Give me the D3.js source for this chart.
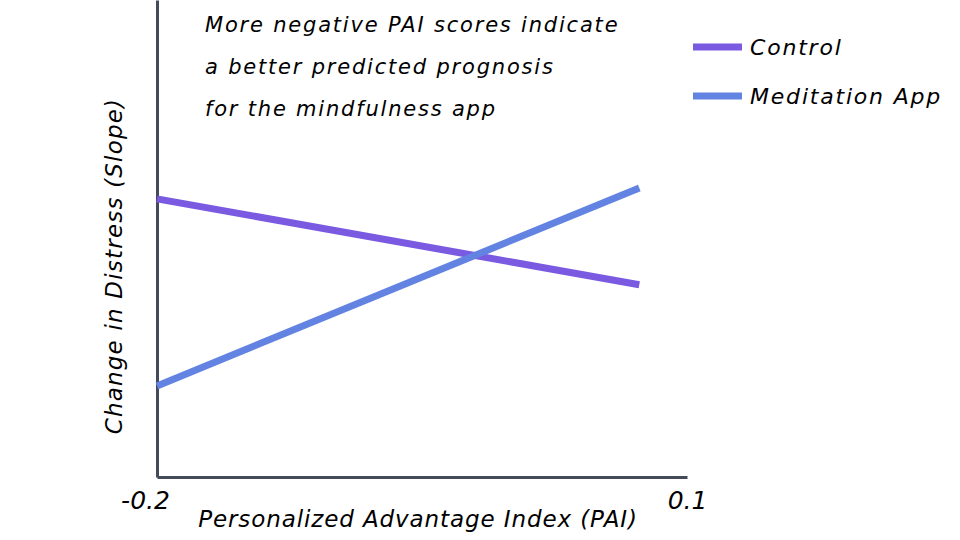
<!DOCTYPE html>
<html>
<head>
<meta charset="utf-8">
<script src="https://cdn.jsdelivr.net/npm/d3@7"></script>
<style>
  body { margin: 0; background: #fff; }
  text { font-family: "DejaVu Sans", sans-serif; font-style: italic; fill: #000; }
</style>
</head>
<body>
<script>
// chart values
var xTicks = [-0.2, 0.1];
var pai = [-0.2, 0.073];
var controlSlope = [5.83, 4.03];
var appSlope = [1.91, 6.06];
var seriesNames = ["Control", "Meditation App"];
var seriesColors = ["#7a5ae0", "#6283e2"];
var noteLines = ["More negative PAI scores indicate", "a better predicted prognosis", "for the mindfulness app"];

var width = 960, height = 540;
var svg = d3.select("body").append("svg").attr("width", width).attr("height", height);

var x = d3.scaleLinear().domain([-0.2, 0.1]).range([157, 687]);
var y = d3.scaleLinear().domain([0, 10]).range([477, 0]);

// axes, no tick marks, only the two end labels
var xAxis = svg.append("g").attr("transform", "translate(0,477)")
  .call(d3.axisBottom(x).tickValues(xTicks).tickSize(0).tickFormat(function(d) { return d.toFixed(1); }));
var yAxis = svg.append("g").attr("transform", "translate(157,0)")
  .call(d3.axisLeft(y).tickValues([]).tickSize(0));

svg.selectAll(".domain").attr("stroke", "#454a5a").attr("stroke-width", 3);
xAxis.selectAll(".tick text")
  .attr("font-family", "DejaVu Sans").attr("font-style", "italic").attr("font-size", 25)
  .attr("y", 32).attr("dy", 0)
  .attr("dx", function(d) { return d < 0 ? -12 : 0; });

var data = [controlSlope, appSlope];
var line = d3.line().x(function(d, i) { return x(pai[i]); }).y(function(d) { return y(d); });

svg.append("g").selectAll("path").data(data).enter().append("path")
  .attr("d", line)
  .attr("fill", "none")
  .attr("stroke", function(d, i) { return seriesColors[i]; })
  .attr("stroke-width", 7);

// legend
var legend = svg.append("g").selectAll("g").data(seriesNames).enter().append("g")
  .attr("transform", function(d, i) { return "translate(693," + (47 + i * 49) + ")"; });
legend.append("line").attr("x1", 0).attr("x2", 49).attr("y1", 0).attr("y2", 0)
  .attr("stroke", function(d, i) { return seriesColors[i]; }).attr("stroke-width", 7);
legend.append("text").attr("x", 57).attr("y", 8).attr("font-size", 22)
  .attr("letter-spacing", 1.8)
  .text(function(d) { return d; });

// note
svg.append("g").selectAll("text").data(noteLines).enter().append("text")
  .attr("x", 205).attr("y", function(d, i) { return 32 + i * 42; })
  .attr("font-size", 21).attr("letter-spacing", 1.8)
  .text(function(d) { return d; });

// axis titles
svg.append("text").attr("x", 418).attr("y", 527).attr("text-anchor", "middle")
  .attr("font-size", 23).attr("letter-spacing", 0.9).text("Personalized Advantage Index (PAI)");
svg.append("text").attr("transform", "translate(122,266) rotate(-90)")
  .attr("text-anchor", "middle").attr("font-size", 23).attr("letter-spacing", 1.2)
  .text("Change in Distress (Slope)");
</script>
</body>
</html>
